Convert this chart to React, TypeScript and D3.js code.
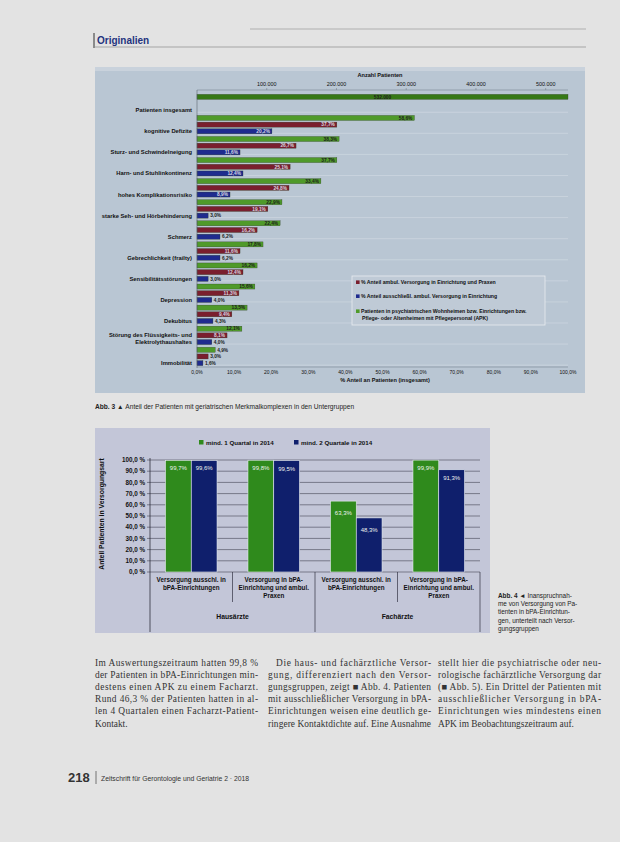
import React from "react";
import * as d3 from "d3";

// ---------- Chart 1 data (Abb. 3) ----------
const categories1 = [
  "Patienten insgesamt",
  "kognitive Defizite",
  "Sturz- und Schwindelneigung",
  "Harn- und Stuhlinkontinenz",
  "hohes Komplikationsrisiko",
  "starke Seh- und Hörbehinderung",
  "Schmerz",
  "Gebrechlichkeit (frailty)",
  "Sensibilitätsstörungen",
  "Depression",
  "Dekubitus",
  "Störung des Flüssigkeits- und Elektrolythaushaltes",
  "Immobilität",
];
const totalPatients = 532000;
// % of all patients (green), % mixed care (red), % exclusive care (blue)
const shareAll = [100, 58.6, 38.3, 37.7, 33.4, 22.9, 22.4, 17.8, 16.2, 15.6, 13.5, 12.1, 4.9];
const shareMixed = [null, 37.7, 26.7, 25.1, 24.8, 19.1, 16.2, 11.6, 12.4, 11.3, 9.4, 8.1, 3.0];
const shareExclusive = [null, 20.2, 11.6, 12.4, 8.9, 3.0, 6.2, 6.2, 3.0, 4.0, 4.3, 4.0, 1.6];
const countTicks = [100000, 200000, 300000, 400000, 500000];
const pctTicks1 = [0, 10, 20, 30, 40, 50, 60, 70, 80, 90, 100];
const legend1 = [
  { key: "mixed", lines: ["% Anteil ambul. Versorgung in Einrichtung und Praxen"] },
  { key: "excl", lines: ["% Anteil ausschließl. ambul. Versorgung in Einrichtung"] },
  {
    key: "all",
    lines: [
      "Patienten in psychiatrischen Wohnheimen bzw. Einrichtungen bzw.",
      "Pflege- oder Altenheimen mit Pflegepersonal (APK)",
    ],
  },
];

// ---------- Chart 2 data (Abb. 4) ----------
const groups2 = ["HA ausschl.", "HA gemischt", "FA ausschl.", "FA gemischt"];
const groupLabels2 = [
  ["Versorgung ausschl. in", "bPA-Einrichtungen"],
  ["Versorgung in bPA-", "Einrichtung und ambul.", "Praxen"],
  ["Versorgung ausschl. in", "bPA-Einrichtungen"],
  ["Versorgung in bPA-", "Einrichtung und ambul.", "Praxen"],
];
const doctorGroups = ["Hausärzte", "Fachärzte"];
const series2 = ["mind. 1 Quartal in 2014", "mind. 2 Quartale in 2014"];
const quarter1 = [99.7, 99.8, 63.3, 99.9];
const quarter2 = [99.6, 99.5, 48.3, 91.3];
const yTicks2 = [0, 10, 20, 30, 40, 50, 60, 70, 80, 90, 100];

// ---------- Page text ----------
const col1 = [
  "Im Auswertungszeitraum hatten 99,8 %",
  "der Patienten in bPA-Einrichtungen min-",
  "destens einen APK zu einem Facharzt.",
  "Rund 46,3 % der Patienten hatten in al-",
  "len 4 Quartalen einen Facharzt-Patient-",
  "Kontakt.",
];
const col2 = [
  "Die haus- und fachärztliche Versor-",
  "gung, differenziert nach den Versor-",
  "gungsgruppen, zeigt \u25A0 Abb. 4. Patienten",
  "mit ausschließlicher Versorgung in bPA-",
  "Einrichtungen weisen eine deutlich ge-",
  "ringere Kontaktdichte auf. Eine Ausnahme",
];
const col3 = [
  "stellt hier die psychiatrische oder neu-",
  "rologische fachärztliche Versorgung dar",
  "(\u25A0 Abb. 5). Ein Drittel der Patienten mit",
  "ausschließlicher Versorgung in bPA-",
  "Einrichtungen wies mindestens einen",
  "APK im Beobachtungszeitraum auf.",
];
const caption4 = [
  "Abb. 4 \u25C4 Inanspruchnah-",
  "me von Versorgung von Pa-",
  "tienten in bPA-Einrichtun-",
  "gen, unterteilt nach Versor-",
  "gungsgruppen",
];

const SANS = "'Liberation Sans', Arial, sans-serif";
const SERIF = "'Liberation Serif', 'Times New Roman', serif";

const pct = (v: number) => d3.format(".1f")(v).replace(".", ",") + "%";
const pctSp = (v: number) => d3.format(".1f")(v).replace(".", ",") + " %";
const cnt = (v: number) => d3.format(",")(v).replace(/,/g, ".");

const COL = {
  all: "#4f9a2a",
  allTotal: "#367816",
  mixed: "#7a1f2e",
  excl: "#1f2b8e",
  g2: "#2f8a1c",
  b2: "#0f1f6c",
};

function Chart1() {
  const x = d3.scaleLinear().domain([0, 100]).range([197, 568]);
  const xc = d3.scaleLinear().domain([0, totalPatients]).range([197, 568]);
  const y = d3.scaleBand<string>().domain(categories1).range([93, 367]);
  const inner = d3
    .scaleBand<string>()
    .domain(["all", "mixed", "excl"])
    .range([0, y.bandwidth()])
    .paddingInner(0.25)
    .paddingOuter(0.2);
  const bh = inner.bandwidth();
  const colors: Record<string, string> = { all: COL.all, mixed: COL.mixed, excl: COL.excl };

  const bars: JSX.Element[] = [];
  categories1.forEach((c, i) => {
    const y0 = y(c)!;
    const rows: [string, number | null][] = [
      ["all", shareAll[i]],
      ["mixed", shareMixed[i]],
      ["excl", shareExclusive[i]],
    ];
    rows.forEach(([k, v]) => {
      if (v == null) return;
      const yy = y0 + inner(k)!;
      const isTotal = i === 0;
      const w = isTotal ? xc(totalPatients) - xc(0) : x(v) - x(0);
      bars.push(
        <rect key={c + k} x={x(0)} y={yy} width={w} height={bh}
          fill={isTotal ? COL.allTotal : colors[k]} stroke="#2a3a20" strokeWidth={0.3} />
      );
      const label = isTotal ? cnt(totalPatients) : pct(v);
      const inside = w > 24;
      const lx = isTotal ? x(50) : inside ? x(0) + w - 2 : x(0) + w + 2;
      bars.push(
        <text key={c + k + "l"} x={lx} y={yy + bh / 2 + 1.8} fontSize={4.8}
          fontFamily={SANS} fontWeight="bold"
          textAnchor={isTotal ? "middle" : inside ? "end" : "start"}
          fill={k === "all" || !inside ? "#1c1c1c" : "#d8d8e0"}>
          {label}
        </text>
      );
    });
  });

  const labelY = (c: string) => y(c)! + inner("excl")! + bh / 2;

  return (
    <g>
      <rect x={95} y={67} width={490} height={326} fill="#b9c6d3" />
      <rect x={95} y={67} width={490} height={4} fill="#c9d2dc" />
      {/* gridlines */}
      {categories1.map((c) => (
        <line key={"g" + c} x1={x(0)} x2={x(100)} y1={labelY(c) + 2} y2={labelY(c) + 2}
          stroke="#d3dbe4" strokeWidth={0.6} />
      ))}
      {/* top axis */}
      <text x={380} y={77} fontSize={5.6} fontFamily={SANS} fontWeight="bold" textAnchor="middle" fill="#111">
        Anzahl Patienten
      </text>
      <line x1={xc(0)} x2={xc(totalPatients)} y1={90} y2={90} stroke="#6b7480" strokeWidth={0.5} />
      {countTicks.map((t) => (
        <g key={"ct" + t}>
          <line x1={xc(t)} x2={xc(t)} y1={88} y2={90} stroke="#6b7480" strokeWidth={0.5} />
          <text x={xc(t)} y={86} fontSize={5.4} fontFamily={SANS} textAnchor="middle" fill="#111">
            {cnt(t)}
          </text>
        </g>
      ))}
      {bars}
      {/* left axis */}
      <line x1={x(0)} x2={x(0)} y1={90} y2={368} stroke="#5d6570" strokeWidth={0.6} />
      {categories1.map((c) => {
        const lines = c.length > 32 ? [c.slice(0, c.indexOf("und ") + 3), c.slice(c.indexOf("und ") + 4)] : [c];
        const yc = labelY(c);
        return (
          <text key={"cl" + c} x={192} fontSize={5.8} fontFamily={SANS} fontWeight="bold" textAnchor="end" fill="#111">
            {lines.map((l, j) => (
              <tspan key={j} x={192} y={yc + 2 + (j - (lines.length - 1)) * 7}>
                {l}
              </tspan>
            ))}
          </text>
        );
      })}
      {/* bottom axis */}
      <line x1={x(0)} x2={x(100)} y1={367} y2={367} stroke="#6b7480" strokeWidth={0.5} />
      {pctTicks1.map((t) => (
        <text key={"pt" + t} x={x(t)} y={374} fontSize={5} fontFamily={SANS} textAnchor="middle" fill="#111">
          {pct(t)}
        </text>
      ))}
      <text x={385} y={382} fontSize={5.6} fontFamily={SANS} fontWeight="bold" textAnchor="middle" fill="#111">
        % Anteil an Patienten (insgesamt)
      </text>
      {/* legend */}
      <rect x={352} y={276} width={193} height={49} fill="#bfcad6" stroke="#e8ecf0" strokeWidth={0.8} />
      {legend1.map((l, i) => {
        const ly = [284, 298, 313][i];
        return (
          <g key={"lg" + i}>
            <rect x={356} y={ly - 3.6} width={3.6} height={3.6}
              fill={l.key === "all" ? COL.all : l.key === "mixed" ? COL.mixed : COL.excl} />
            {l.lines.map((t, j) => (
              <text key={j} x={361 + (j > 0 ? 1 : 0)} y={ly + j * 6.5} fontSize={5.2} fontFamily={SANS} fontWeight="bold" fill="#111">
                {t}
              </text>
            ))}
          </g>
        );
      })}
    </g>
  );
}

function Chart2() {
  const y = d3.scaleLinear().domain([0, 100]).range([572, 460]);
  const x0 = d3.scaleBand<string>().domain(groups2).range([150, 480]);
  const x1 = d3.scaleBand<string>().domain(series2).range([0, x0.bandwidth()]).paddingOuter(0.6);
  const vals = [quarter1, quarter2];
  const cols = [COL.g2, COL.b2];
  return (
    <g>
      <rect x={95} y={428} width={395} height={205} fill="#c3c6d8" />
      {/* legend */}
      {series2.map((s, i) => (
        <g key={"l2" + s}>
          <rect x={[199, 294][i]} y={440} width={4.5} height={4.5} fill={cols[i]} />
          <text x={[206, 301][i]} y={444.8} fontSize={6.2} fontFamily={SANS} fontWeight="bold" fill="#111">
            {s}
          </text>
        </g>
      ))}
      {/* grid */}
      {yTicks2.map((t) => (
        <g key={"yt" + t}>
          <line x1={150} x2={480} y1={y(t)} y2={y(t)} stroke="#2a2a3a" strokeWidth={0.5} />
          <line x1={147} x2={150} y1={y(t)} y2={y(t)} stroke="#2a2a3a" strokeWidth={0.5} />
          <text x={145} y={y(t) + 2.2} fontSize={6.3} fontFamily={SANS} fontWeight="bold" textAnchor="end" fill="#111">
            {pctSp(t)}
          </text>
        </g>
      ))}
      <line x1={150} x2={150} y1={458} y2={632} stroke="#1a1a2a" strokeWidth={0.7} />
      <text transform={`translate(104,514) rotate(-90)`} fontSize={6.8} fontFamily={SANS} fontWeight="bold" textAnchor="middle" fill="#111">
        Anteil Patienten in Versorgungsart
      </text>
      {/* bars */}
      {groups2.map((g, gi) =>
        series2.map((s, si) => {
          const v = vals[si][gi];
          const bx = x0(g)! + x1(s)!;
          return (
            <g key={g + s}>
              <rect x={bx} y={y(v)} width={x1.bandwidth()} height={y(0) - y(v)} fill={cols[si]}
                stroke="#e6ecf0" strokeWidth={0.6} />
              <text x={bx + x1.bandwidth() / 2} y={y(v) + (v < 70 ? 14 : 10)} fontSize={6} fontFamily={SANS}
                textAnchor="middle" fill="#eef2ee">
                {pct(v)}
              </text>
            </g>
          );
        })
      )}
      {/* category axis */}
      {groups2.map((g, gi) => (
        <g key={"ga" + g}>
          <line x1={x0(g)! + x0.bandwidth()} x2={x0(g)! + x0.bandwidth()} y1={572}
            y2={gi % 2 === 1 ? 632 : 602} stroke="#1a1a2a" strokeWidth={0.6} />
          <text fontSize={6.3} fontFamily={SANS} fontWeight="bold" textAnchor="middle" fill="#111">
            {groupLabels2[gi].map((l, j) => (
              <tspan key={j} x={x0(g)! + x0.bandwidth() / 2} y={582 + j * 8}>{l}</tspan>
            ))}
          </text>
        </g>
      ))}
      {doctorGroups.map((d, di) => (
        <text key={d} x={(x0(groups2[di * 2])! + x0(groups2[di * 2 + 1])! + x0.bandwidth()) / 2} y={619}
          fontSize={6.8} fontFamily={SANS} fontWeight="bold" textAnchor="middle" fill="#111">
          {d}
        </text>
      ))}
    </g>
  );
}

export default function App() {
  const colX = [95, 268, 438];
  const colW = 163;
  const cols = [col1, col2, col3];
  return (
    <svg width={620} height={842} style={{ position: "absolute", left: 0, top: 0 }}>
      <rect width={620} height={842} fill="#e3e3e3" />
      {/* header */}
      <line x1={250} x2={586} y1={29} y2={29} stroke="#9a9a9a" strokeWidth={0.7} />
      <line x1={95} x2={586} y1={47} y2={47} stroke="#8a8a8a" strokeWidth={0.7} />
      <line x1={94} x2={94} y1={33} y2={48} stroke="#333" strokeWidth={1} />
      <text x={97} y={44} fontSize={10} fontFamily={SANS} fontWeight="bold" fill="#23337e">Originalien</text>

      <Chart1 />
      <text x={95} y={409} fontSize={6.6} fontFamily={SANS} fill="#222">
        <tspan fontWeight="bold">Abb. 3 ▲ </tspan>
        Anteil der Patienten mit geriatrischen Merkmalkomplexen in den Untergruppen
      </text>

      <Chart2 />
      {caption4.map((l, i) => (
        <text key={"c4" + i} x={498} y={598 + i * 8.2} fontSize={6.4} fontFamily={SANS} fill="#222">
          {i === 0 ? (<><tspan fontWeight="bold">Abb. 4 ◄ </tspan>{l.replace("Abb. 4 \u25C4 ", "")}</>) : l}
        </text>
      ))}

      {/* body text */}
      {cols.map((c, ci) =>
        c.map((l, li) => {
          const indent = ci === 1 && li === 0 ? 8 : 0;
          const last = li === c.length - 1 && ci !== 1;
          return (
            <text key={"b" + ci + li} x={colX[ci] + indent} y={666 + li * 12.1} fontSize={9.4}
              fontFamily={SERIF} fill="#333"
              {...(last ? {} : { textLength: colW - indent, lengthAdjust: "spacing" })}>
              {l}
            </text>
          );
        })
      )}

      {/* footer */}
      <text x={68} y={782} fontSize={13} fontFamily={SANS} fontWeight="bold" fill="#333">218</text>
      <line x1={96} x2={96} y1={771} y2={784} stroke="#555" strokeWidth={0.8} />
      <text x={101} y={781} fontSize={6.8} fontFamily={SANS} fill="#333">
        Zeitschrift für Gerontologie und Geriatrie 2 · 2018
      </text>
    </svg>
  );
}
